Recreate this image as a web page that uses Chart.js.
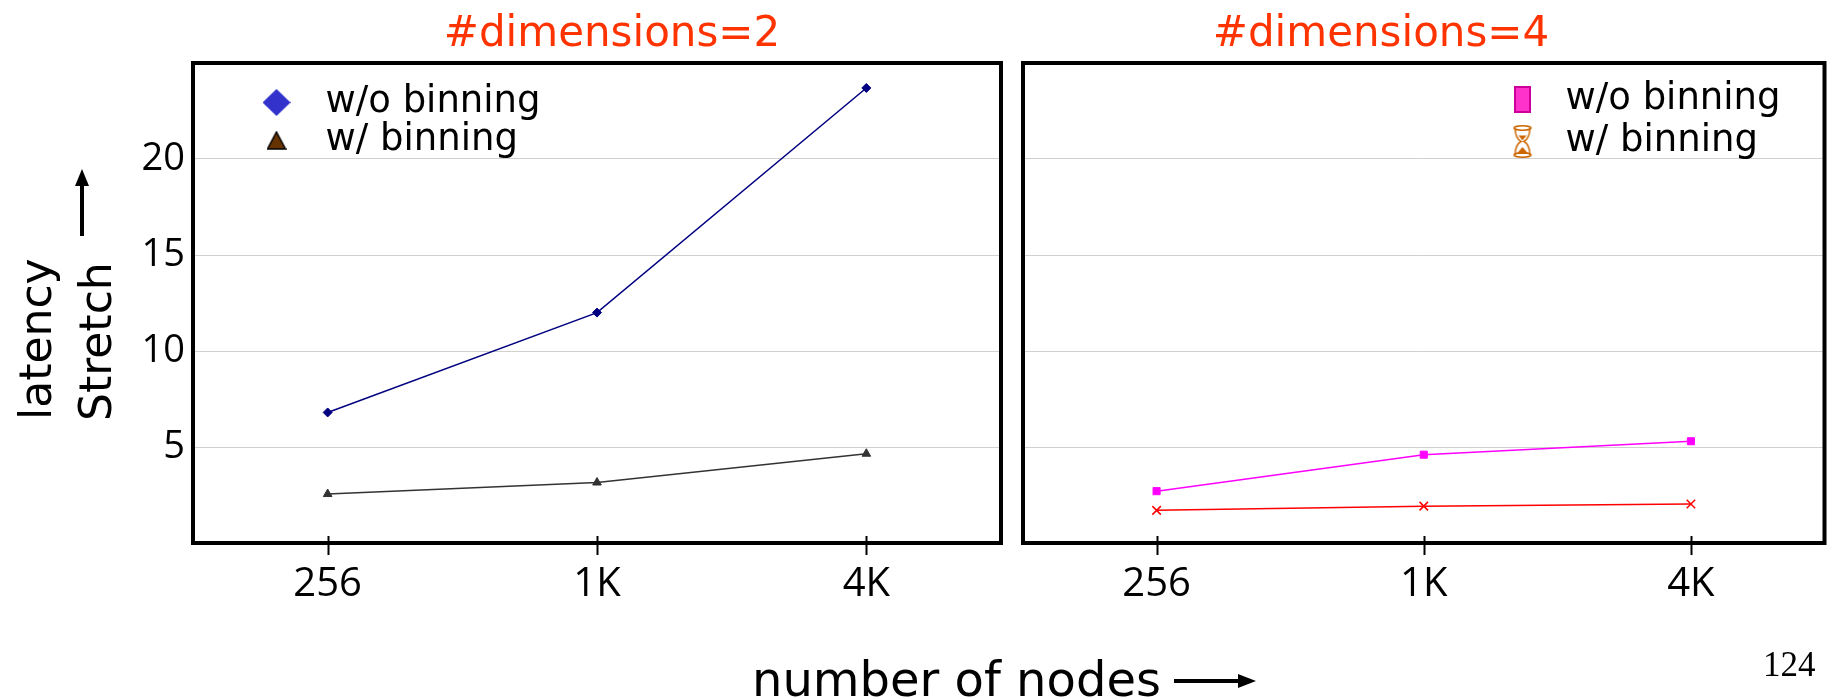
<!DOCTYPE html>
<html>
<head>
<meta charset="utf-8">
<script src="https://cdn.jsdelivr.net/npm/chart.js@4.4.1/dist/chart.umd.min.js"></script>
<style>
  html, body { margin: 0; padding: 0; background: #fff; }
  #page { position: relative; width: 1832px; height: 699px; overflow: hidden; font-family: 'DejaVu Sans', sans-serif; }
  canvas { position: absolute; top: 0; }
  .txt { position: absolute; white-space: nowrap; line-height: 1; color: #000; }
  .title { color: #FF3300; font-size: 42px; top: 11px; transform: translateX(-50%); }
  .rot { transform-origin: 0 0; transform: rotate(-90deg); font-size: 44px; }
  .shaft { position: absolute; background: #000; }
  .head { position: absolute; width: 0; height: 0; }
</style>
</head>
<body>
<div id="page">
  <canvas id="dim2" width="1010" height="699" style="left:0"></canvas>
  <canvas id="dim4" width="822" height="699" style="left:1010px"></canvas>

  <div class="txt title" style="left:612px">#dimensions=2</div>
  <div class="txt title" style="left:1381px">#dimensions=4</div>

  <div class="txt rot" style="left:14px; top:420px">latency</div>
  <div class="txt rot" style="left:74px; top:421px">Stretch</div>
  <div class="shaft" style="left:80px; top:184px; width:4px; height:52px"></div>
  <div class="head" style="left:75px; top:169px; border-left:7px solid transparent; border-right:7px solid transparent; border-bottom:17px solid #000"></div>

  <div class="txt" style="left:752px; top:655px; font-size:48px">number of nodes</div>
  <div class="shaft" style="left:1174px; top:679px; width:66px; height:4px"></div>
  <div class="head" style="left:1238px; top:674px; border-top:7px solid transparent; border-bottom:7px solid transparent; border-left:18px solid #000"></div>

  <div class="txt" style="left:1763px; top:647px; font-family:'Liberation Serif', serif; font-size:35px">124</div>
</div>

<script>
// data
const nodeLabels = ['256', '1K', '4K'];
const seriesNames = ['w/o binning', 'w/ binning'];
const dim2WithoutBinning = [6.8, 12.0, 23.7];
const dim2WithBinning = [2.55, 3.15, 4.65];
const dim4WithoutBinning = [2.7, 4.6, 5.3];
const dim4WithBinning = [1.7, 1.92, 2.03];
const stretchTicks = [5, 10, 15, 20];

Chart.defaults.font.family = "'DejaVu Sans', sans-serif";
Chart.defaults.color = '#000';

// small canvases used as legend symbols
function marker(w, h, paint) {
  const c = document.createElement('canvas');
  c.width = w;
  c.height = h;
  paint(c.getContext('2d'), w, h);
  return c;
}

const blueDiamond = marker(28, 27, (g, w, h) => {
  g.fillStyle = '#3333CC';
  g.beginPath();
  g.moveTo(w / 2, 0); g.lineTo(w, h / 2); g.lineTo(w / 2, h); g.lineTo(0, h / 2);
  g.closePath();
  g.fill();
});

const brownTriangle = marker(20, 19, (g, w, h) => {
  g.fillStyle = '#663300';
  g.strokeStyle = '#000';
  g.lineWidth = 1.5;
  g.beginPath();
  g.moveTo(w / 2, 1); g.lineTo(w - 1, h - 1); g.lineTo(1, h - 1);
  g.closePath();
  g.fill();
  g.stroke();
});

const pinkBar = marker(17, 27, (g, w, h) => {
  g.fillStyle = '#FF33CC';
  g.fillRect(0, 0, w, h);
  g.strokeStyle = '#CC0099';
  g.lineWidth = 2;
  g.strokeRect(1, 1, w - 2, h - 2);
});

const hourglass = marker(20, 33, (g, w, h) => {
  g.strokeStyle = '#CC6600';
  g.fillStyle = '#CC6600';
  g.lineWidth = 1.5;
  g.beginPath();
  g.ellipse(w / 2, 3, w / 2 - 1.5, 2.2, 0, 0, Math.PI * 2);
  g.stroke();
  g.beginPath();
  g.ellipse(w / 2, h - 3, w / 2 - 1.5, 2.2, 0, 0, Math.PI * 2);
  g.stroke();
  g.beginPath();
  g.moveTo(2.5, 3);
  g.quadraticCurveTo(3, h / 2 - 3, w / 2 - 1.5, h / 2);
  g.quadraticCurveTo(3, h / 2 + 3, 2.5, h - 3);
  g.moveTo(w - 2.5, 3);
  g.quadraticCurveTo(w - 3, h / 2 - 3, w / 2 + 1.5, h / 2);
  g.quadraticCurveTo(w - 3, h / 2 + 3, w - 2.5, h - 3);
  g.stroke();
  // sand
  g.beginPath();
  g.moveTo(w / 2 - 4, h / 2 - 6); g.lineTo(w / 2 + 4, h / 2 - 6); g.lineTo(w / 2, h / 2 - 1);
  g.closePath();
  g.fill();
  g.beginPath();
  g.moveTo(4, h - 4); g.lineTo(w / 2, h - 11); g.lineTo(w - 4, h - 4);
  g.closePath();
  g.fill();
});

// black frame round the plot area, plus tick marks crossing the bottom edge
const framePlugin = {
  id: 'frame',
  afterDraw(chart) {
    const { ctx, chartArea: a } = chart;
    const xs = chart.scales.x;
    ctx.save();
    ctx.strokeStyle = '#000';
    ctx.lineWidth = 2;
    xs.ticks.forEach((t, i) => {
      const px = Math.round(xs.getPixelForTick(i)) + 0.5;
      ctx.beginPath();
      ctx.moveTo(px, a.bottom - 7);
      ctx.lineTo(px, a.bottom + 12);
      ctx.stroke();
    });
    ctx.lineWidth = 4;
    ctx.strokeRect(a.left, a.top, a.right - a.left, a.bottom - a.top);
    ctx.restore();
  }
};

// put the legend at an offset inside the plot area
const legendSpot = {
  id: 'legendSpot',
  afterLayout(chart, args, opts) {
    const lg = chart.legend;
    const a = chart.chartArea;
    const p = lg.options.labels.padding;
    lg.left = a.left + opts.dx - p;
    lg.top = a.top + opts.dy - p;
    lg.right = lg.left + lg.width;
    lg.bottom = a.bottom;
  }
};

function makeChart(id, datasets, symbols, o) {
  new Chart(document.getElementById(id), {
    type: 'line',
    data: { labels: nodeLabels, datasets: datasets },
    options: {
      responsive: false,
      animation: false,
      layout: { padding: { top: 63, right: o.padRight, left: 0, bottom: 0 } },
      elements: { line: { tension: 0 } },
      scales: {
        x: {
          offset: true,
          afterFit: s => { s.height = 156; },
          border: { display: false },
          grid: { display: false },
          ticks: { font: { family: "'Open Sans', sans-serif", size: 40 }, padding: 10, maxRotation: 0 }
        },
        y: {
          min: 0,
          max: 25,
          afterFit: s => { s.width = o.yWidth; },
          border: { display: false },
          grid: { color: '#d0d0d0', lineWidth: 1, drawTicks: false },
          ticks: {
            display: o.showY,
            stepSize: 5,
            padding: 8,
            font: { family: "'Open Sans', sans-serif", size: 38 },
            callback: v => stretchTicks.includes(v) ? String(v) : ''
          }
        }
      },
      plugins: {
        title: { display: false },
        tooltip: { enabled: false },
        legendSpot: { dx: o.dx, dy: o.dy },
        legend: {
          position: 'chartArea',
          align: 'start',
          labels: {
            usePointStyle: true,
            pointStyleWidth: o.boxWidth,
            boxWidth: o.boxWidth,
            boxHeight: 37,
            padding: o.rowGap,
            textAlign: 'left',
            color: '#000',
            font: { size: 37 },
            generateLabels: chart => chart.data.datasets.map((ds, i) => ({
              text: ds.label,
              pointStyle: symbols[i],
              fillStyle: ds.backgroundColor,
              strokeStyle: ds.borderColor,
              lineWidth: 0,
              hidden: false,
              datasetIndex: i,
              textAlign: 'left'
            }))
          }
        }
      }
    },
    plugins: [framePlugin, legendSpot]
  });
}

makeChart('dim2', [
  {
    label: seriesNames[0], data: dim2WithoutBinning,
    borderColor: '#000080', backgroundColor: '#000080', borderWidth: 1.5,
    pointStyle: 'rectRot', pointRadius: 4.5, pointBorderWidth: 1
  },
  {
    label: seriesNames[1], data: dim2WithBinning,
    borderColor: '#333333', backgroundColor: '#333333', borderWidth: 1.5,
    pointStyle: 'triangle', pointRadius: 5, pointBorderWidth: 1
  }
], [blueDiamond, brownTriangle], { padRight: 9, yWidth: 193, showY: true, dx: 53, dy: 21, boxWidth: 61, rowGap: 1 });

makeChart('dim4', [
  {
    label: seriesNames[0], data: dim4WithoutBinning,
    borderColor: '#FF00FF', backgroundColor: '#FF00FF', borderWidth: 1.5,
    pointStyle: 'rect', pointRadius: 5, pointBorderWidth: 1
  },
  {
    label: seriesNames[1], data: dim4WithBinning,
    borderColor: '#FF0000', backgroundColor: '#FF0000', borderWidth: 1.5,
    pointStyle: 'crossRot', pointRadius: 6, pointBorderWidth: 1.5
  }
], [pinkBar, hourglass], { padRight: 4, yWidth: 13, showY: false, dx: 475, dy: 18, boxWidth: 49, rowGap: 5 });
</script>
</body>
</html>
